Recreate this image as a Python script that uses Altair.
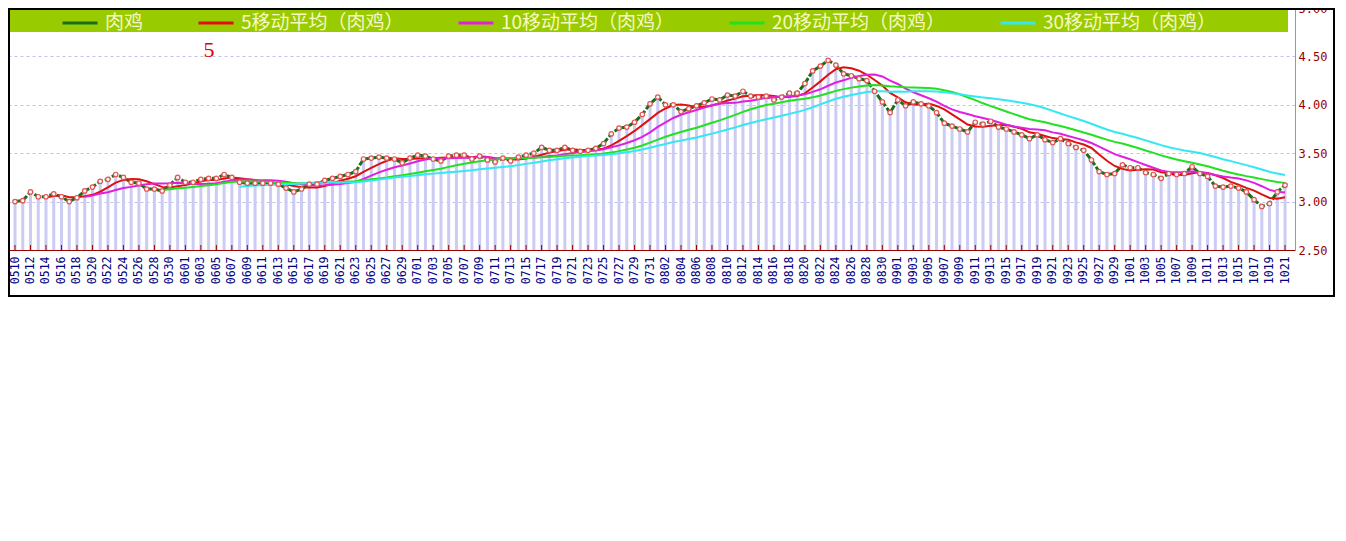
import altair as alt
import pandas as pd

# ---- data -------------------------------------------------------------
dates = pd.date_range("2021-05-10", periods=165, freq="D").strftime("%m%d").tolist()

values = [
    3.00, 3.01, 3.10, 3.05, 3.05, 3.08, 3.05, 3.00, 3.04, 3.11,
    3.15, 3.21, 3.23, 3.28, 3.25, 3.20, 3.19, 3.13, 3.13, 3.11,
    3.17, 3.25, 3.20, 3.20, 3.23, 3.24, 3.24, 3.28, 3.25, 3.20,
    3.19, 3.19, 3.19, 3.19, 3.18, 3.14, 3.10, 3.13, 3.18, 3.18,
    3.22, 3.24, 3.26, 3.28, 3.31, 3.44, 3.45, 3.46, 3.45, 3.44,
    3.40, 3.45, 3.48, 3.47, 3.44, 3.42, 3.47, 3.48, 3.48, 3.44,
    3.47, 3.43, 3.41, 3.45, 3.42, 3.46, 3.48, 3.50, 3.56, 3.53,
    3.53, 3.56, 3.53, 3.52, 3.53, 3.55, 3.60, 3.70, 3.76, 3.77,
    3.82, 3.90, 4.01, 4.08, 4.00, 4.00, 3.93, 3.96, 3.99, 4.02,
    4.06, 4.05, 4.10, 4.09, 4.14, 4.09, 4.08, 4.09, 4.05, 4.08,
    4.12, 4.12, 4.22, 4.35, 4.40, 4.46, 4.41, 4.32, 4.30, 4.27,
    4.25, 4.14, 4.03, 3.92, 4.05, 3.99, 4.03, 4.01, 3.99, 3.92,
    3.81, 3.78, 3.75, 3.72, 3.82, 3.80, 3.83, 3.77, 3.75, 3.72,
    3.69, 3.65, 3.69, 3.64, 3.61, 3.65, 3.60, 3.56, 3.53, 3.43,
    3.31, 3.28, 3.29, 3.38, 3.35, 3.35, 3.30, 3.28, 3.24, 3.29,
    3.28, 3.29, 3.36, 3.29, 3.26, 3.16, 3.15, 3.16, 3.14, 3.10,
    3.02, 2.95, 2.98, 3.10, 3.17,
]

series_names = ["肉鸡", "5移动平均（肉鸡）", "10移动平均（肉鸡）", "20移动平均（肉鸡）", "30移动平均（肉鸡）"]
series_colors = ["#1a6e1a", "#e01010", "#e020e0", "#22e022", "#33e8f0"]
ma_windows = [5, 10, 20, 30]
y_ticks = [2.5, 3.0, 3.5, 4.0, 4.5, 5.0]
x_tick_idx = list(range(0, len(values), 2))

df = pd.DataFrame({"idx": list(range(len(values))), "date": dates, "value": values})

# ---- scales / axes ----------------------------------------------------
W, H = 1287, 242
xs = alt.Scale(domain=[-0.26, 164.64], nice=False, zero=False)
ys = alt.Scale(domain=[2.5, 5.0], nice=False, zero=False)
label_expr = "[" + ",".join(f"'{d}'" for d in dates) + "][datum.value]"

x_axis = alt.Axis(values=x_tick_idx, labelExpr=label_expr, labelAngle=270,
                  labelFont="DejaVu Sans Mono", labelFontSize=11.5, labelColor="#000080",
                  labelPadding=6, ticks=False, grid=False, domainColor="#990000",
                  title=None, labelOverlap=False)
y_axis = alt.Axis(orient="right", values=y_ticks, format=".2f",
                  labelFont="DejaVu Sans Mono", labelFontSize=12, labelColor="#990000",
                  labelPadding=3, ticks=False, domainColor="#999999",
                  grid=True, gridColor="#c0c0ee", gridDash=[3, 3], title=None)

X = alt.X("idx:Q", scale=xs, axis=x_axis)
Y = alt.Y("value:Q", scale=ys, axis=y_axis)

base = alt.Chart(df)
one = base.transform_filter("datum.idx == 0")

band = one.mark_rect(color="#99cc00").encode(
    x=alt.value(2), x2=alt.value(1280), y=alt.value(0), y2=alt.value(24))

bars = base.mark_bar(size=3, color="#cbcbf3").encode(x=X, y=Y, y2=alt.datum(2.5))

ticks = base.transform_filter("datum.idx % 2 == 0").mark_rule(color="#990000").encode(
    x=X, y=alt.value(H), y2=alt.value(H - 5))

main_line = base.mark_line(color=series_colors[0], strokeWidth=3, strokeDash=[6, 2]).encode(x=X, y=Y)

ma = base.transform_window(rn="row_number()", sort=[alt.SortField("idx")])
for n in ma_windows:
    ma = ma.transform_window(**{f"a{n}": "mean(value)"}, frame=[-(n - 1), 0],
                             sort=[alt.SortField("idx")])
for n in ma_windows:
    ma = ma.transform_calculate(**{f"m{n}": f"datum.rn >= {n} ? datum.a{n} : null"})
name_expr = " : ".join(f"datum.key == 'm{n}' ? '{series_names[i + 1]}'" for i, n in enumerate(ma_windows)) + " : ''"
ma = ma.transform_fold([f"m{n}" for n in ma_windows], as_=["key", "v"]) \
       .transform_filter("isValid(datum.v)") \
       .transform_calculate(series=name_expr)

ma_lines = ma.mark_line(strokeWidth=2).encode(
    x=X,
    y=alt.Y("v:Q", scale=ys, axis=y_axis),
    color=alt.Color("series:N",
                    scale=alt.Scale(domain=series_names, range=series_colors),
                    legend=alt.Legend(title=None, orient="none", legendX=53, legendY=-4,
                                      direction="horizontal", columns=5, gridAlign="each",
                                      columnPadding=48, symbolType="stroke", symbolSize=1225,
                                      symbolStrokeWidth=3, labelFont="Noto Sans CJK SC",
                                      labelFontSize=19, labelColor="#f8f8c0", labelOffset=6,
                                      labelLimit=400, padding=0)),
    order=alt.Order("idx:Q"),
)

points = base.mark_circle(size=20, color="#fff6f6", stroke="#e05555", strokeWidth=1.2, opacity=1).encode(x=X, y=Y)

text5 = one.mark_text(text="5", color="#dd0000", font="Liberation Serif", fontSize=22,
                      align="center", baseline="middle").encode(x=alt.value(201), y=alt.value(42))

border = one.mark_rect(fillOpacity=0, stroke="#000000", strokeWidth=2).encode(
    x=alt.value(1), x2=alt.value(1326), y=alt.value(1), y2=alt.value(288))

chart = alt.layer(band, bars, ticks, main_line, ma_lines, points, text5, border).properties(
    width=W, height=H,
    autosize=alt.AutoSizeParams(type="none"),
    padding={"left": 0, "top": 0, "right": 40, "bottom": 47},
).configure_view(fill="#f5f2f2", stroke="#aaaaaa").configure(background="white")

chart.save("out.html", embed_options={"renderer": "svg", "actions": False})
